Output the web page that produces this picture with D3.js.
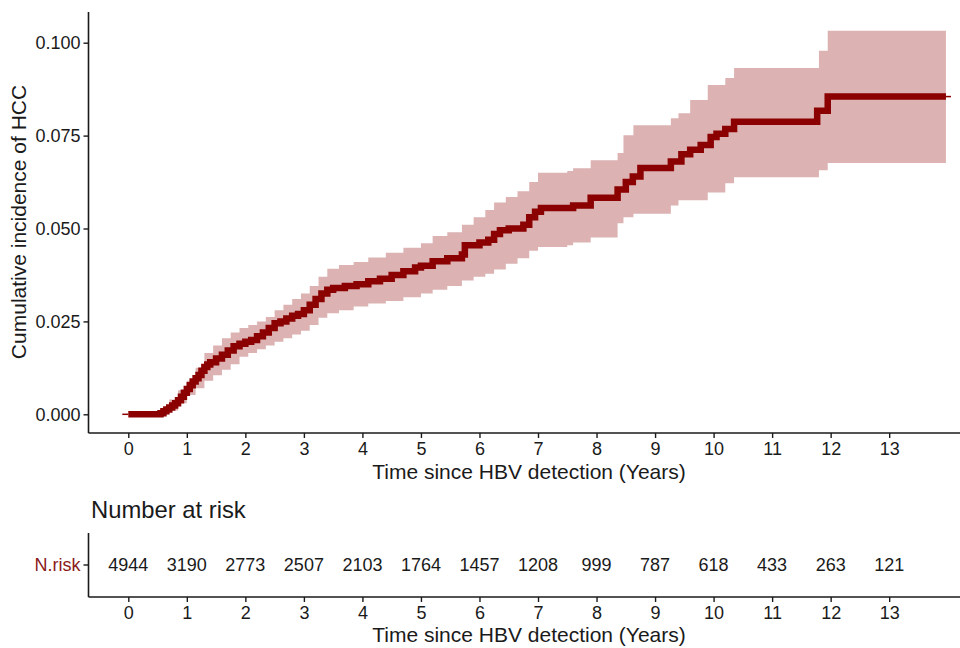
<!DOCTYPE html>
<html>
<head>
<meta charset="utf-8">
<script src="https://cdn.jsdelivr.net/npm/d3@7"></script>
<style>
  body { margin: 0; background: #fff; }
  text { font-family: "Liberation Sans", Arial, sans-serif; fill: #1a1a1a; }
</style>
</head>
<body>
<div id="chart"></div>
<script>
// cumulative incidence estimate (step function, value holds from time on)
var estTime = [0, 0.55, 0.6, 0.65, 0.7, 0.75, 0.8, 0.85, 0.9, 0.95, 1.0, 1.05, 1.1, 1.15, 1.2,
  1.25, 1.3, 1.35, 1.4, 1.5, 1.6, 1.7, 1.8, 1.9,
  2.0, 2.1, 2.2, 2.3, 2.4, 2.5, 2.6, 2.7, 2.8, 2.9, 3.0, 3.1, 3.2, 3.3, 3.4, 3.5, 3.7, 3.9,
  4.1, 4.3, 4.5, 4.7, 4.9, 5.0, 5.2, 5.45, 5.7, 5.75, 6.0, 6.15, 6.25, 6.35, 6.5, 6.75, 6.85,
  6.95, 7.05, 7.6, 7.9, 8.36, 8.5, 8.62, 8.75, 9.27, 9.45, 9.6, 9.78, 9.95, 10.05, 10.2, 10.35,
  11.77, 11.95, 13.97]
var estValue = [0, 0.0003, 0.0008, 0.0013, 0.0018, 0.0024, 0.003, 0.0038, 0.0047, 0.0058,
  0.0068, 0.0078, 0.0088, 0.0097, 0.0106, 0.0117, 0.0127, 0.0134, 0.014,
  0.0150, 0.016, 0.0172, 0.0183, 0.019, 0.0195, 0.020, 0.021, 0.022, 0.0232, 0.0245, 0.025,
  0.0258, 0.0265, 0.027, 0.028, 0.0295, 0.031, 0.0325, 0.0335, 0.034, 0.0345, 0.035, 0.0358,
  0.0365, 0.0375, 0.0385, 0.0395, 0.040, 0.0412, 0.042, 0.043, 0.0455, 0.0462, 0.047, 0.0485,
  0.0495, 0.050, 0.051, 0.053, 0.0545, 0.0555, 0.0562, 0.0583, 0.0605, 0.0625, 0.064, 0.0663,
  0.068, 0.070, 0.0712, 0.0725, 0.0746, 0.0755, 0.0768, 0.0787, 0.0817, 0.0855, 0.0855]

// confidence band
var ciTime = [0, 0.55, 0.7, 0.85, 1.0, 1.15, 1.3, 1.45, 1.6, 1.75, 1.9, 2.05, 2.2, 2.35, 2.5,
  2.65, 2.8, 2.95, 3.1, 3.25, 3.4, 3.6, 3.85, 4.1, 4.4, 4.7, 5.0, 5.2, 5.45, 5.7, 5.9, 6.1,
  6.25, 6.45, 6.65, 6.85, 7.0, 7.5, 7.6, 7.9, 8.36, 8.46, 8.63, 9.27, 9.4, 9.6, 9.9, 10.2,
  10.35, 11.8, 11.95, 13.97]
var ciLower = [0, 0, 0.001, 0.003, 0.0052, 0.007, 0.009, 0.0105, 0.012, 0.0135, 0.0155, 0.0165,
  0.0175, 0.0185, 0.0195, 0.0205, 0.0215, 0.0225, 0.024, 0.026, 0.0272, 0.028, 0.029, 0.0298,
  0.0305, 0.0315, 0.0325, 0.0335, 0.0345, 0.036, 0.037, 0.0378, 0.039, 0.0405, 0.042, 0.044,
  0.045, 0.0455, 0.0462, 0.0476, 0.0514, 0.053, 0.054, 0.0562, 0.0576, 0.0576, 0.0597, 0.0622,
  0.0638, 0.0657, 0.0676, 0.0676]
var ciUpper = [0, 0.001, 0.004, 0.0065, 0.009, 0.0125, 0.0165, 0.0185, 0.0205, 0.022, 0.0232,
  0.024, 0.025, 0.0262, 0.028, 0.0295, 0.031, 0.0325, 0.0345, 0.037, 0.0392, 0.0402, 0.041,
  0.0422, 0.0435, 0.0448, 0.046, 0.048, 0.049, 0.051, 0.053, 0.055, 0.057, 0.0585, 0.060,
  0.0625, 0.065, 0.0655, 0.0662, 0.0684, 0.0703, 0.0751, 0.0778, 0.0797, 0.081, 0.0846,
  0.0886, 0.0905, 0.0932, 0.0978, 0.1032, 0.1032]

// risk table
var riskYears = [0, 1, 2, 3, 4, 5, 6, 7, 8, 9, 10, 11, 12, 13]
var nRisk = [4944, 3190, 2773, 2507, 2103, 1764, 1457, 1208, 999, 787, 618, 433, 263, 121]

var yTicks = [0, 0.025, 0.05, 0.075, 0.1]
var lineColor = "#8b0000"

var width = 960, height = 648

var svg = d3.select("#chart").append("svg")
    .attr("width", width)
    .attr("height", height)

var xScale = d3.scaleLinear()
    .domain([-0.68, 14.21])
    .range([88.5, 960])

var yScale = d3.scaleLinear()
    .domain([-0.00503, 0.10826])
    .range([433, 12])

var est = estTime.map(function(t, i) { return {t: t, v: estValue[i]} })
var ci = ciTime.map(function(t, i) { return {t: t, lo: ciLower[i], hi: ciUpper[i]} })

// band
var area = d3.area()
    .x(function(d) { return xScale(d.t) })
    .y0(function(d) { return yScale(d.lo) })
    .y1(function(d) { return yScale(d.hi) })
    .curve(d3.curveStepAfter)

svg.append("path")
    .datum(ci)
    .attr("d", area)
    .style("fill", lineColor)
    .style("fill-opacity", 0.3)

// estimate
var line = d3.line()
    .x(function(d) { return xScale(d.t) })
    .y(function(d) { return yScale(d.v) })
    .curve(d3.curveStepAfter)

svg.append("path")
    .datum(est)
    .attr("d", line)
    .style("fill", "none")
    .style("stroke", lineColor)
    .style("stroke-width", 6.5)

// small censor stubs at both ends
svg.append("line")
    .attr("x1", xScale(0) - 6).attr("x2", xScale(0))
    .attr("y1", yScale(0)).attr("y2", yScale(0))
    .style("stroke", lineColor).style("stroke-width", 1.5)
svg.append("line")
    .attr("x1", xScale(13.97)).attr("x2", xScale(13.97) + 5)
    .attr("y1", yScale(0.0855)).attr("y2", yScale(0.0855))
    .style("stroke", lineColor).style("stroke-width", 1.5)

// main axes
var xAxis = d3.axisBottom(xScale).tickValues(riskYears).tickSize(5).tickPadding(4)
var yAxis = d3.axisLeft(yScale).tickValues(yTicks).tickSize(5).tickPadding(3)
    .tickFormat(d3.format(".3f"))

function styleAxis(g) {
  g.select(".domain").attr("stroke", "#1a1a1a").attr("stroke-width", 1.6)
  g.selectAll(".tick line").attr("stroke", "#1a1a1a").attr("stroke-width", 1.4)
  g.selectAll(".tick text").style("font-size", "18px").attr("fill", "#1a1a1a")
}

var gx = svg.append("g")
    .attr("transform", "translate(0,433)")
    .call(xAxis.tickSizeOuter(0))
gx.select(".domain").attr("d", "M88.5,0H960")
styleAxis(gx)

var gy = svg.append("g")
    .attr("transform", "translate(88.5,0)")
    .call(yAxis.tickSizeOuter(0))
gy.select(".domain").attr("d", "M0,12V433")
styleAxis(gy)

svg.append("text")
    .attr("x", 529)
    .attr("y", 479)
    .attr("text-anchor", "middle")
    .style("font-size", "21px")
    .text("Time since HBV detection (Years)")

svg.append("text")
    .attr("transform", "translate(26,222) rotate(-90)")
    .attr("text-anchor", "middle")
    .style("font-size", "21px")
    .text("Cumulative incidence of HCC")

// risk table
svg.append("text")
    .attr("x", 91)
    .attr("y", 518)
    .style("font-size", "23.8px")
    .text("Number at risk")

var riskY = d3.scaleBand().domain(["N.risk"]).range([533, 597])

var gr = svg.append("g")
    .attr("transform", "translate(0,597)")
    .call(d3.axisBottom(xScale).tickValues(riskYears).tickSize(5).tickPadding(4).tickSizeOuter(0))
gr.select(".domain").attr("d", "M88.5,0H960")
styleAxis(gr)

var gry = svg.append("g")
    .attr("transform", "translate(88.5,0)")
    .call(d3.axisLeft(riskY).tickSize(5).tickPadding(3).tickSizeOuter(0))
gry.select(".domain").attr("d", "M0,533V597")
styleAxis(gry)
gry.selectAll(".tick text").attr("fill", "#8b1a1a").style("fill", "#8b1a1a")

svg.selectAll(".risknum")
    .data(riskYears)
    .enter().append("text")
    .attr("class", "risknum")
    .attr("x", function(d) { return xScale(d) })
    .attr("y", riskY("N.risk") + riskY.bandwidth() / 2)
    .attr("dy", "0.35em")
    .attr("text-anchor", "middle")
    .style("font-size", "18px")
    .text(function(d, i) { return nRisk[i] })

svg.append("text")
    .attr("x", 529)
    .attr("y", 642)
    .attr("text-anchor", "middle")
    .style("font-size", "21px")
    .text("Time since HBV detection (Years)")
</script>
</body>
</html>
